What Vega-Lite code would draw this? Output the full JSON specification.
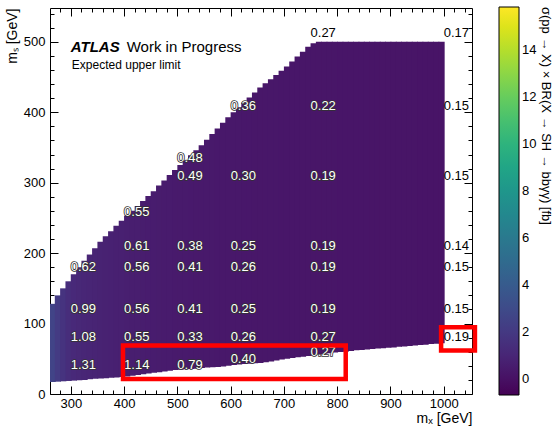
{
  "$schema": "https://vega.github.io/schema/vega-lite/v6.json",
  "width": 422,
  "height": 386,
  "autosize": {"type": "none"},
  "padding": {"left": 50, "top": 8, "right": 83, "bottom": 36},
  "background": "white",
  "config": {
    "view": {"stroke": null},
    "font": "Liberation Sans",
    "axis": {"domainColor": "black", "domainWidth": 1, "tickColor": "black", "tickWidth": 1, "labelColor": "black", "labelFont": "Liberation Sans", "labelFontSize": 13, "titleFont": "Liberation Sans", "titleFontSize": 14, "titleFontWeight": "normal", "titleColor": "black", "grid": false, "labelOverlap": false, "labelFlush": false, "format": "d"}
  },
  "datasets": {
    "cells": [
      {"x0":261,"x1":270,"y0":17,"y1":128,"v":2.6},
      {"x0":270,"x1":280,"y0":17.5,"y1":140,"v":2.1},
      {"x0":280,"x1":290,"y0":18,"y1":150,"v":1.7},
      {"x0":290,"x1":300,"y0":18.5,"y1":160,"v":1.4},
      {"x0":300,"x1":310,"y0":19,"y1":170,"v":1.2},
      {"x0":310,"x1":320,"y0":19.5,"y1":180,"v":1.1},
      {"x0":320,"x1":330,"y0":20,"y1":189,"v":1.0},
      {"x0":330,"x1":340,"y0":21,"y1":198,"v":0.95},
      {"x0":340,"x1":350,"y0":21.5,"y1":207,"v":0.9},
      {"x0":350,"x1":360,"y0":22,"y1":216,"v":0.85},
      {"x0":360,"x1":370,"y0":22.5,"y1":224,"v":0.8},
      {"x0":370,"x1":380,"y0":23,"y1":231,"v":0.76},
      {"x0":380,"x1":390,"y0":23.5,"y1":239,"v":0.72},
      {"x0":390,"x1":400,"y0":24,"y1":246,"v":0.68},
      {"x0":400,"x1":410,"y0":25,"y1":253,"v":0.64},
      {"x0":410,"x1":420,"y0":26,"y1":260,"v":0.61},
      {"x0":420,"x1":430,"y0":27,"y1":267,"v":0.58},
      {"x0":430,"x1":440,"y0":28,"y1":274,"v":0.55},
      {"x0":440,"x1":450,"y0":29,"y1":281,"v":0.52},
      {"x0":450,"x1":460,"y0":30,"y1":288,"v":0.5},
      {"x0":460,"x1":470,"y0":31,"y1":296,"v":0.48},
      {"x0":470,"x1":480,"y0":32,"y1":303,"v":0.46},
      {"x0":480,"x1":490,"y0":33,"y1":311,"v":0.44},
      {"x0":490,"x1":500,"y0":34,"y1":318,"v":0.42},
      {"x0":500,"x1":510,"y0":34.5,"y1":325,"v":0.41},
      {"x0":510,"x1":520,"y0":35,"y1":332,"v":0.4},
      {"x0":520,"x1":530,"y0":35.5,"y1":339,"v":0.38},
      {"x0":530,"x1":540,"y0":36,"y1":346,"v":0.37},
      {"x0":540,"x1":550,"y0":37,"y1":353,"v":0.36},
      {"x0":550,"x1":560,"y0":37.5,"y1":361,"v":0.35},
      {"x0":560,"x1":570,"y0":38,"y1":369,"v":0.34},
      {"x0":570,"x1":580,"y0":38.5,"y1":377,"v":0.33},
      {"x0":580,"x1":590,"y0":39,"y1":385,"v":0.32},
      {"x0":590,"x1":600,"y0":40,"y1":393,"v":0.31},
      {"x0":600,"x1":610,"y0":41,"y1":400,"v":0.3},
      {"x0":610,"x1":620,"y0":42,"y1":407,"v":0.29},
      {"x0":620,"x1":630,"y0":42.5,"y1":414,"v":0.28},
      {"x0":630,"x1":640,"y0":43,"y1":421,"v":0.28},
      {"x0":640,"x1":650,"y0":43.5,"y1":428,"v":0.27},
      {"x0":650,"x1":660,"y0":44,"y1":435,"v":0.26},
      {"x0":660,"x1":670,"y0":45,"y1":441,"v":0.26},
      {"x0":670,"x1":680,"y0":46,"y1":447,"v":0.25},
      {"x0":680,"x1":690,"y0":47.5,"y1":453,"v":0.25},
      {"x0":690,"x1":700,"y0":49,"y1":459,"v":0.24},
      {"x0":700,"x1":710,"y0":50,"y1":465,"v":0.24},
      {"x0":710,"x1":720,"y0":51,"y1":472,"v":0.23},
      {"x0":720,"x1":730,"y0":52,"y1":479,"v":0.23},
      {"x0":730,"x1":740,"y0":53,"y1":486,"v":0.22},
      {"x0":740,"x1":750,"y0":54,"y1":493,"v":0.22},
      {"x0":750,"x1":760,"y0":55,"y1":498,"v":0.21},
      {"x0":760,"x1":770,"y0":56,"y1":500,"v":0.21},
      {"x0":770,"x1":780,"y0":57,"y1":500,"v":0.2},
      {"x0":780,"x1":790,"y0":58,"y1":500,"v":0.2},
      {"x0":790,"x1":800,"y0":59,"y1":500,"v":0.2},
      {"x0":800,"x1":810,"y0":59.5,"y1":500,"v":0.19},
      {"x0":810,"x1":820,"y0":60,"y1":500,"v":0.19},
      {"x0":820,"x1":830,"y0":61,"y1":500,"v":0.19},
      {"x0":830,"x1":840,"y0":62,"y1":500,"v":0.18},
      {"x0":840,"x1":850,"y0":62.5,"y1":500,"v":0.18},
      {"x0":850,"x1":860,"y0":63,"y1":500,"v":0.18},
      {"x0":860,"x1":870,"y0":64,"y1":500,"v":0.17},
      {"x0":870,"x1":880,"y0":64.5,"y1":500,"v":0.17},
      {"x0":880,"x1":890,"y0":65,"y1":500,"v":0.17},
      {"x0":890,"x1":900,"y0":65.5,"y1":500,"v":0.17},
      {"x0":900,"x1":910,"y0":66,"y1":500,"v":0.16},
      {"x0":910,"x1":920,"y0":67,"y1":500,"v":0.16},
      {"x0":920,"x1":930,"y0":67.5,"y1":500,"v":0.16},
      {"x0":930,"x1":940,"y0":68,"y1":500,"v":0.16},
      {"x0":940,"x1":950,"y0":69,"y1":500,"v":0.16},
      {"x0":950,"x1":960,"y0":69.5,"y1":500,"v":0.15},
      {"x0":960,"x1":970,"y0":70,"y1":500,"v":0.15},
      {"x0":970,"x1":980,"y0":71,"y1":500,"v":0.15},
      {"x0":980,"x1":990,"y0":71.5,"y1":500,"v":0.15},
      {"x0":990,"x1":1000,"y0":72,"y1":500,"v":0.15}
    ],
    "labels": [
      {"mX":300,"mS":179.6,"t":"0.62"},
      {"mX":300,"mS":120.4,"t":"0.99"},
      {"mX":300,"mS":80.6,"t":"1.08"},
      {"mX":300,"mS":41,"t":"1.31"},
      {"mX":400,"mS":259,"t":"0.55"},
      {"mX":400,"mS":209.5,"t":"0.61"},
      {"mX":400,"mS":179.6,"t":"0.56"},
      {"mX":400,"mS":120.4,"t":"0.56"},
      {"mX":400,"mS":80.6,"t":"0.55"},
      {"mX":400,"mS":41,"t":"1.14"},
      {"mX":500,"mS":335,"t":"0.48"},
      {"mX":500,"mS":310,"t":"0.49"},
      {"mX":500,"mS":209.5,"t":"0.38"},
      {"mX":500,"mS":179.6,"t":"0.41"},
      {"mX":500,"mS":120.4,"t":"0.41"},
      {"mX":500,"mS":80.6,"t":"0.33"},
      {"mX":500,"mS":41,"t":"0.79"},
      {"mX":600,"mS":409.5,"t":"0.36"},
      {"mX":600,"mS":310,"t":"0.30"},
      {"mX":600,"mS":209.5,"t":"0.25"},
      {"mX":600,"mS":179.6,"t":"0.26"},
      {"mX":600,"mS":120.4,"t":"0.25"},
      {"mX":600,"mS":80.6,"t":"0.26"},
      {"mX":600,"mS":49.3,"t":"0.40"},
      {"mX":750,"mS":512,"t":"0.27"},
      {"mX":750,"mS":409.5,"t":"0.22"},
      {"mX":750,"mS":310,"t":"0.19"},
      {"mX":750,"mS":209.5,"t":"0.19"},
      {"mX":750,"mS":179.6,"t":"0.19"},
      {"mX":750,"mS":120.4,"t":"0.19"},
      {"mX":750,"mS":80.6,"t":"0.27"},
      {"mX":750,"mS":59.3,"t":"0.27"},
      {"mX":1000,"mS":512,"t":"0.17"},
      {"mX":1000,"mS":409.5,"t":"0.15"},
      {"mX":1000,"mS":310,"t":"0.15"},
      {"mX":1000,"mS":209.5,"t":"0.14"},
      {"mX":1000,"mS":179.6,"t":"0.15"},
      {"mX":1000,"mS":120.4,"t":"0.15"},
      {"mX":1000,"mS":80.6,"t":"0.19"}
    ],
    "boxes": [
      {"x0":398,"x1":816,"y0":21.4,"y1":68.9},
      {"x0":995,"x1":1058.5,"y0":61.7,"y1":94.7}
    ],
    "notes": [
      {"mX":300,"mS":493,"t":"ATLAS","kind":"atlas"},
      {"mX":405,"mS":493,"t":"Work in Progress","kind":"wip"},
      {"mX":302,"mS":467,"t":"Expected upper limit","kind":"sub"}
    ]
  },
  "layer": [
    {
      "data": {"name": "cells"},
      "mark": {"type": "rect", "x2Offset": 0.9},
      "encoding": {
        "x": {"field": "x0", "type": "quantitative", "scale": {"domain": [261, 1053], "nice": false, "zero": false},
          "axis": {"orient": "bottom", "values": [280,300,320,340,360,380,400,420,440,460,480,500,520,540,560,580,600,620,640,660,680,700,720,740,760,780,800,820,840,860,880,900,920,940,960,980,1000,1020,1040],
            "labelExpr": "datum.value % 100 === 0 ? datum.label : ''",
            "tickSize": {"condition": {"test": "datum.value % 100 === 0", "value": -8}, "value": -4},
            "labelPadding": 11, "title": "mₓ [GeV]", "titleAnchor": "end", "titleBaseline": "middle", "titleY": 24}},
        "x2": {"field": "x1"},
        "y": {"field": "y0", "type": "quantitative", "scale": {"domain": [0, 548], "nice": false, "zero": false},
          "axis": {"orient": "left", "values": [0,20,40,60,80,100,120,140,160,180,200,220,240,260,280,300,320,340,360,380,400,420,440,460,480,500,520,540],
            "labelExpr": "datum.value % 100 === 0 ? datum.label : ''",
            "tickSize": {"condition": {"test": "datum.value % 100 === 0", "value": -8}, "value": -4},
            "labelPadding": 13, "title": "mₛ [GeV]", "titleAnchor": "end", "titlePadding": 4}},
        "y2": {"field": "y1"},
        "color": {"field": "v", "type": "quantitative",
          "scale": {"scheme": "viridis", "domain": [-0.7, 15.85], "nice": false, "zero": false},
          "legend": {"type": "gradient", "orient": "none", "legendX": 449, "legendY": -1, "direction": "vertical", "gradientLength": 388, "gradientThickness": 20,
            "values": [0,2,4,6,8,10,12,14], "title": "σ(pp → X) × BR(X → SH → bbγγ) [fb]", "titleOrient": "right", "titleAngle": 270, "titleAnchor": "end", "titleLimit": 600,
            "titleFontSize": 13, "titleFontWeight": "normal", "titleFont": "Liberation Sans", "titleColor": "black",
            "labelFontSize": 13, "labelFont": "Liberation Sans", "labelColor": "black", "labelOffset": 3,
            "gradientStrokeColor": "black", "gradientStrokeWidth": 1, "padding": 0, "titlePadding": 3}}
      }
    },
    {
      "data": {"name": "labels"},
      "transform": [{"filter": "!(datum.mX == 1000 || datum.mS > 500)"}],
      "mark": {"type": "text", "align": "left", "baseline": "middle", "fontSize": 13, "font": "Liberation Sans", "fill": "#333", "stroke": "#333", "strokeWidth": 1.6},
      "encoding": {
        "x": {"field": "mX", "type": "quantitative",
          "axis": {"orient": "top", "values": [280,300,320,340,360,380,400,420,440,460,480,500,520,540,560,580,600,620,640,660,680,700,720,740,760,780,800,820,840,860,880,900,920,940,960,980,1000,1020,1040],
            "labels": false, "title": null,
            "tickSize": {"condition": {"test": "datum.value % 100 === 0", "value": -8}, "value": -4}}},
        "y": {"field": "mS", "type": "quantitative",
          "axis": {"orient": "right", "values": [0,20,40,60,80,100,120,140,160,180,200,220,240,260,280,300,320,340,360,380,400,420,440,460,480,500,520,540],
            "labels": false, "title": null,
            "tickSize": {"condition": {"test": "datum.value % 100 === 0", "value": -8}, "value": -4}}},
        "text": {"field": "t"}
      }
    },
    {
      "data": {"name": "labels"},
      "transform": [{"filter": "!(datum.mX == 1000 || datum.mS > 500)"}],
      "mark": {"type": "text", "align": "left", "baseline": "middle", "fontSize": 13, "font": "Liberation Sans", "fill": "white"},
      "encoding": {
        "x": {"field": "mX", "type": "quantitative", "axis": null},
        "y": {"field": "mS", "type": "quantitative", "axis": null},
        "text": {"field": "t"}
      }
    },
    {
      "data": {"name": "labels"},
      "transform": [{"filter": "datum.mX == 1000 || datum.mS > 500"}],
      "mark": {"type": "text", "align": "left", "baseline": "middle", "fontSize": 13, "font": "Liberation Sans", "fill": "black"},
      "encoding": {
        "x": {"field": "mX", "type": "quantitative", "axis": null},
        "y": {"field": "mS", "type": "quantitative", "axis": null},
        "text": {"field": "t"}
      }
    },
    {
      "data": {"name": "notes"},
      "transform": [{"filter": "datum.kind == 'atlas'"}],
      "mark": {"type": "text", "align": "left", "baseline": "middle", "fontSize": 15, "font": "Liberation Sans", "fontWeight": "bold", "fontStyle": "italic", "fill": "black"},
      "encoding": {
        "x": {"field": "mX", "type": "quantitative", "axis": null},
        "y": {"field": "mS", "type": "quantitative", "axis": null},
        "text": {"field": "t"}
      }
    },
    {
      "data": {"name": "notes"},
      "transform": [{"filter": "datum.kind == 'wip'"}],
      "mark": {"type": "text", "align": "left", "baseline": "middle", "fontSize": 15, "font": "Liberation Sans", "fill": "black"},
      "encoding": {
        "x": {"field": "mX", "type": "quantitative", "axis": null},
        "y": {"field": "mS", "type": "quantitative", "axis": null},
        "text": {"field": "t"}
      }
    },
    {
      "data": {"name": "notes"},
      "transform": [{"filter": "datum.kind == 'sub'"}],
      "mark": {"type": "text", "align": "left", "baseline": "middle", "fontSize": 12, "font": "Liberation Sans", "fill": "black"},
      "encoding": {
        "x": {"field": "mX", "type": "quantitative", "axis": null},
        "y": {"field": "mS", "type": "quantitative", "axis": null},
        "text": {"field": "t"}
      }
    },
    {
      "data": {"name": "boxes"},
      "mark": {"type": "rect", "filled": false, "stroke": "#ff0000", "strokeWidth": 4.5},
      "encoding": {
        "x": {"field": "x0", "type": "quantitative", "axis": null},
        "x2": {"field": "x1"},
        "y": {"field": "y0", "type": "quantitative", "axis": null},
        "y2": {"field": "y1"}
      }
    }
  ],
  "resolve": {"axis": {"x": "independent", "y": "independent"}}
}
